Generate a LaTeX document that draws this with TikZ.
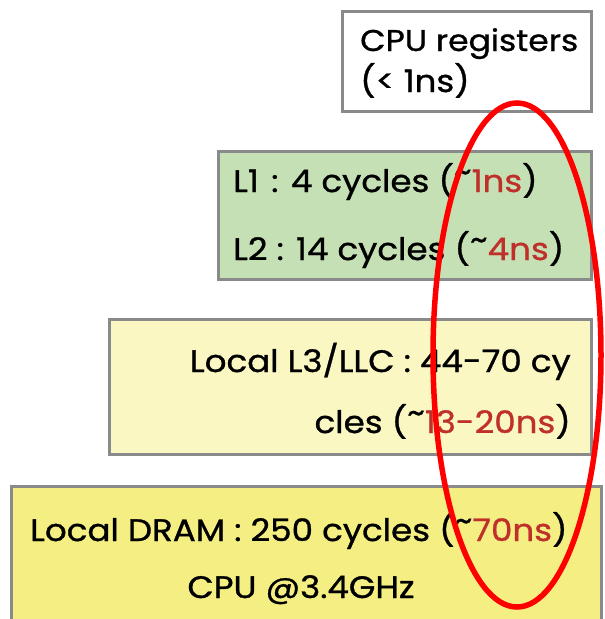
\documentclass[tikz,border=0pt]{standalone}
\usepackage{fontspec}
\setmainfont{Poppins}[FakeBold=1.0, FakeStretch=1.1]
\definecolor{boxline}{HTML}{8A8A8A}
\definecolor{greenfill}{HTML}{C5E0B4}
\definecolor{paleyellow}{HTML}{FAF7C3}
\definecolor{yellowfill}{HTML}{F5EE82}
\definecolor{numred}{HTML}{C0302A}
\definecolor{ringred}{HTML}{FF0000}
\newcommand{\tl}{\raisebox{0.32em}{\textasciitilde}}
\tikzset{
  box/.style={draw=boxline, line width=2.6pt, anchor=north west, inner sep=0pt},
  txt/.style={font=\fontsize{31}{34}\selectfont, inner sep=0pt, text=black},
}
\begin{document}
\begin{tikzpicture}[x=1pt,y=-1pt]
\useasboundingbox (0,0) rectangle (605,619);
\node[box, fill=white, minimum width=249pt, minimum height=100pt] (reg) at (341,10) {};
\node[box, fill=greenfill, minimum width=373pt, minimum height=128pt] (l12) at (217,150) {};
\node[box, fill=paleyellow, minimum width=482pt, minimum height=135pt] (l3) at (108,318) {};
\node[box, fill=yellowfill, minimum width=590pt, minimum height=140pt] (dram) at (10,485) {};

\node[txt, anchor=base west, font=\fontsize{30}{33}\selectfont] (t1) at (360,51) {CPU registers};
\node[txt, anchor=base west] (t2) at (360,92) {(< 1ns)};
\node[txt, anchor=base west] (t3) at (233,192) {L1\hspace{0.4em}:\hspace{0.4em}4 cycles (\tl\textcolor{numred}{1ns})};
\node[txt, anchor=base west] (t4) at (233,260) {L2 : 14 cycles (\tl\textcolor{numred}{4ns})};
\node[txt, anchor=base east] (t5) at (571,372) {Local L3/LLC : 44-70 cy};
\node[txt, anchor=base east] (t6) at (571,433) {cles (\tl\textcolor{numred}{13-20ns})};
\node[txt, anchor=base west] (t7) at (30,541) {Local DRAM : 250 cycles (\tl\textcolor{numred}{70ns})};
\node[txt, anchor=base] (t8) at (301,598) {CPU @3.4GHz};

\draw[ringred, line width=5.5pt] (517,355) ellipse [x radius=84, y radius=252];
\end{tikzpicture}
\end{document}
